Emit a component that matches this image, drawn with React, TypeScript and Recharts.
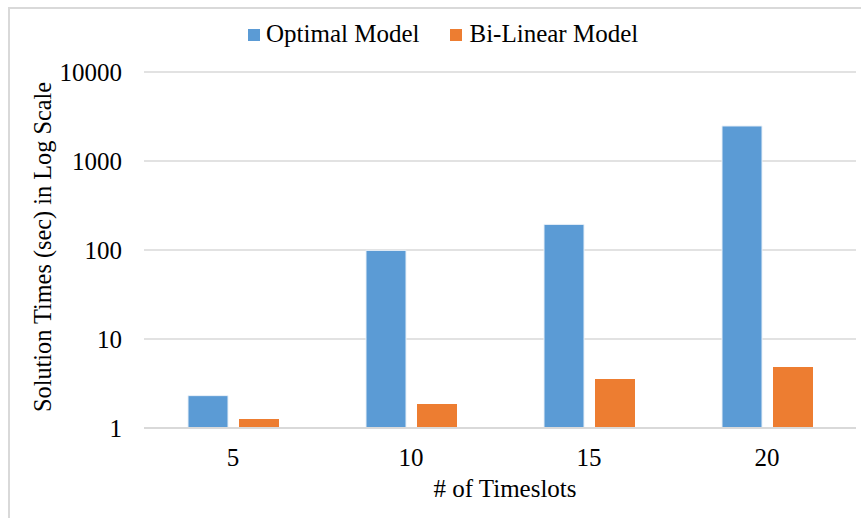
import React from "react";
import { BarChart, Bar, XAxis, YAxis, CartesianGrid } from "recharts";

const timeslots = ["5", "10", "15", "20"];
const optimalTimes = [2.31, 99, 194, 2475];
const biLinearTimes = [1.26, 1.86, 3.56, 4.86];
const yTicks = [1, 10, 100, 1000, 10000];

const seriesNames = { optimal: "Optimal Model", biLinear: "Bi-Linear Model" };
const blue = "#5b9bd5";
const orange = "#ed7d31";
const gridColor = "#d9d9d9";
const font = "Liberation Serif";

const data = timeslots.map((t, i) => ({
  slot: t,
  optimal: optimalTimes[i],
  biLinear: biLinearTimes[i],
}));

const LegendBox = () => (
  <div
    style={{
      position: "absolute",
      left: 248,
      top: 21,
      display: "flex",
      alignItems: "flex-start",
      fontFamily: font,
      fontSize: 25,
      lineHeight: "25px",
      color: "#000",
      whiteSpace: "nowrap",
    }}
  >
    <span style={{ width: 12, height: 12, background: blue, display: "inline-block", marginTop: 8, marginRight: 6 }} />
    <span style={{ marginRight: 31 }}>{seriesNames.optimal}</span>
    <span style={{ width: 12, height: 12, background: orange, display: "inline-block", marginTop: 8, marginRight: 7 }} />
    <span>{seriesNames.biLinear}</span>
  </div>
);

const App: React.FC = () => {
  return (
    <div style={{ position: "absolute", left: 0, top: 0, width: 861, height: 518, background: "#fff" }}>
      <div
        style={{
          position: "absolute",
          left: 8,
          top: 7,
          width: 853,
          height: 511,
          borderTop: `2px solid ${gridColor}`,
          borderLeft: `2px solid ${gridColor}`,
          boxSizing: "border-box",
        }}
      />
      <BarChart
        width={861}
        height={518}
        data={data}
        margin={{ top: 72, right: 5, bottom: 30, left: 0 }}
        barSize={40}
        barGap={11}
        style={{ position: "absolute", left: 0, top: 0 }}
      >
        <CartesianGrid vertical={false} stroke={gridColor} strokeWidth={1.5} />
        <XAxis
          dataKey="slot"
          height={60}
          axisLine={{ stroke: gridColor, strokeWidth: 2 }}
          tickLine={false}
          tickSize={0}
          tickMargin={20}
          tick={{ fill: "#000", fontSize: 25, fontFamily: font }}
          label={{
            content: () => (
              <text x={505} y={497} textAnchor="middle" fill="#000" fontSize={25} fontFamily={font}>
                # of Timeslots
              </text>
            ),
          }}
        />
        <YAxis
          scale="log"
          domain={[1, 10000]}
          ticks={yTicks}
          allowDataOverflow
          width={144}
          axisLine={false}
          tickLine={false}
          tickSize={0}
          tickMargin={22}
          tick={{ fill: "#000", fontSize: 25, fontFamily: font }}
          label={{
            content: () => (
              <text
                x={51}
                y={247}
                transform="rotate(-90 51 247)"
                textAnchor="middle"
                fill="#000"
                fontSize={24.3}
                fontFamily={font}
              >
                Solution Times (sec) in Log Scale
              </text>
            ),
          }}
        />
        <Bar dataKey="optimal" name={seriesNames.optimal} fill={blue} stroke="#e8f0f8" strokeWidth={1} isAnimationActive={false} />
        <Bar dataKey="biLinear" name={seriesNames.biLinear} fill={orange} isAnimationActive={false} />
      </BarChart>
      <LegendBox />
    </div>
  );
};

export default App;
